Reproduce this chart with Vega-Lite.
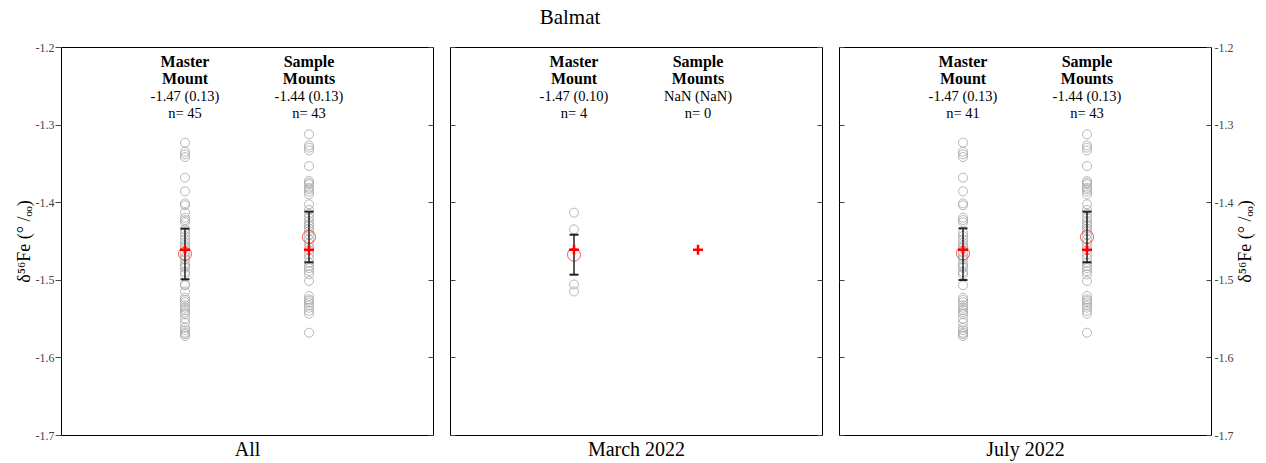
{
  "$schema": "https://vega.github.io/schema/vega-lite/v6.json",
  "background": "white",
  "padding": {"left": 14, "top": 6, "right": 5, "bottom": 2},
  "title": {"text": "Balmat", "font": "Liberation Serif", "fontSize": 21, "fontWeight": "normal", "color": "black", "offset": 13, "anchor": "middle", "frame": "bounds", "dx": -65},
  "datasets": {
    "pts": [
      {"c":"J","g":"Master","v":-1.3233},{"c":"J","g":"Master","v":-1.3349},{"c":"J","g":"Master","v":-1.3383},{"c":"J","g":"Master","v":-1.3418},{"c":"J","g":"Master","v":-1.3684},
      {"c":"J","g":"Master","v":-1.3860},{"c":"J","g":"Master","v":-1.4015},{"c":"J","g":"Master","v":-1.4040},{"c":"J","g":"Master","v":-1.4200},{"c":"J","g":"Master","v":-1.4230},
      {"c":"J","g":"Master","v":-1.4260},{"c":"J","g":"Master","v":-1.4393},{"c":"J","g":"Master","v":-1.4436},{"c":"J","g":"Master","v":-1.4480},{"c":"J","g":"Master","v":-1.4522},
      {"c":"J","g":"Master","v":-1.4560},{"c":"J","g":"Master","v":-1.4586},{"c":"J","g":"Master","v":-1.4650},{"c":"J","g":"Master","v":-1.4700},{"c":"J","g":"Master","v":-1.4736},
      {"c":"J","g":"Master","v":-1.4790},{"c":"J","g":"Master","v":-1.4822},{"c":"J","g":"Master","v":-1.4844},{"c":"J","g":"Master","v":-1.4900},{"c":"J","g":"Master","v":-1.4930},
      {"c":"J","g":"Master","v":-1.5071},{"c":"J","g":"Master","v":-1.5231},{"c":"J","g":"Master","v":-1.5260},{"c":"J","g":"Master","v":-1.5290},{"c":"J","g":"Master","v":-1.5329},
      {"c":"J","g":"Master","v":-1.5360},{"c":"J","g":"Master","v":-1.5389},{"c":"J","g":"Master","v":-1.5420},{"c":"J","g":"Master","v":-1.5445},{"c":"J","g":"Master","v":-1.5501},
      {"c":"J","g":"Master","v":-1.5553},{"c":"J","g":"Master","v":-1.5617},{"c":"J","g":"Master","v":-1.5650},{"c":"J","g":"Master","v":-1.5682},{"c":"J","g":"Master","v":-1.5700},
      {"c":"J","g":"Master","v":-1.5724},
      {"c":"M","g":"Master","v":-1.4135},{"c":"M","g":"Master","v":-1.4350},{"c":"M","g":"Master","v":-1.5060},{"c":"M","g":"Master","v":-1.5150},
      {"c":"J","g":"Sample","v":-1.3125},{"c":"J","g":"Sample","v":-1.3267},{"c":"J","g":"Sample","v":-1.3297},{"c":"J","g":"Sample","v":-1.3332},{"c":"J","g":"Sample","v":-1.3534},
      {"c":"J","g":"Sample","v":-1.3727},{"c":"J","g":"Sample","v":-1.3750},{"c":"J","g":"Sample","v":-1.3770},{"c":"J","g":"Sample","v":-1.3813},{"c":"J","g":"Sample","v":-1.3834},
      {"c":"J","g":"Sample","v":-1.3864},{"c":"J","g":"Sample","v":-1.3900},{"c":"J","g":"Sample","v":-1.4027},{"c":"J","g":"Sample","v":-1.4100},{"c":"J","g":"Sample","v":-1.4150},
      {"c":"J","g":"Sample","v":-1.4200},{"c":"J","g":"Sample","v":-1.4242},{"c":"J","g":"Sample","v":-1.4280},{"c":"J","g":"Sample","v":-1.4307},{"c":"J","g":"Sample","v":-1.4340},
      {"c":"J","g":"Sample","v":-1.4371},{"c":"J","g":"Sample","v":-1.4420},{"c":"J","g":"Sample","v":-1.4480},{"c":"J","g":"Sample","v":-1.4530},{"c":"J","g":"Sample","v":-1.4580},
      {"c":"J","g":"Sample","v":-1.4620},{"c":"J","g":"Sample","v":-1.4672},{"c":"J","g":"Sample","v":-1.4720},{"c":"J","g":"Sample","v":-1.4780},{"c":"J","g":"Sample","v":-1.4822},
      {"c":"J","g":"Sample","v":-1.4850},{"c":"J","g":"Sample","v":-1.4887},{"c":"J","g":"Sample","v":-1.4930},{"c":"J","g":"Sample","v":-1.5015},{"c":"J","g":"Sample","v":-1.5209},
      {"c":"J","g":"Sample","v":-1.5252},{"c":"J","g":"Sample","v":-1.5270},{"c":"J","g":"Sample","v":-1.5295},{"c":"J","g":"Sample","v":-1.5330},{"c":"J","g":"Sample","v":-1.5359},
      {"c":"J","g":"Sample","v":-1.5400},{"c":"J","g":"Sample","v":-1.5436},{"c":"J","g":"Sample","v":-1.5682}
    ],
    "summ": [
      {"p":"All","g":"Master","mean":-1.4663,"lo":-1.4994,"hi":-1.4341,"ref":-1.4612,"h":"Master\nMount","s":"-1.47 (0.13)","n":"n= 45"},
      {"p":"All","g":"Sample","mean":-1.4448,"lo":-1.4775,"hi":-1.4122,"ref":-1.4612,"h":"Sample\nMounts","s":"-1.44 (0.13)","n":"n= 43"},
      {"p":"March 2022","g":"Master","mean":-1.4676,"lo":-1.4934,"hi":-1.4419,"ref":-1.4612,"h":"Master\nMount","s":"-1.47 (0.10)","n":"n= 4"},
      {"p":"March 2022","g":"Sample","mean":null,"lo":null,"hi":null,"ref":-1.4612,"h":"Sample\nMounts","s":"NaN (NaN)","n":"n= 0"},
      {"p":"July 2022","g":"Master","mean":-1.4659,"lo":-1.5003,"hi":-1.4337,"ref":-1.4612,"h":"Master\nMount","s":"-1.47 (0.13)","n":"n= 41"},
      {"p":"July 2022","g":"Sample","mean":-1.4448,"lo":-1.4775,"hi":-1.4122,"ref":-1.4612,"h":"Sample\nMounts","s":"-1.44 (0.13)","n":"n= 43"}
    ]
  },
  "spacing": 15,
  "hconcat": [
    {
      "width": 372, "height": 388,
      "encoding": {"x": {"field": "g", "type": "nominal", "scale": {"type": "point", "domain": ["Master", "Sample"], "padding": 1}, "axis": {"title": "All", "labels": false, "ticks": false, "domain": false, "titleFontSize": 20, "titlePadding": 4, "titleFontWeight": "normal", "titleColor": "black", "titleFont": "Liberation Serif"}}},
      "resolve": {"axis": {"y": "independent"}},
      "layer": [
        {"data": {"name": "pts"}, "mark": {"type": "point", "shape": "circle", "filled": false, "stroke": "#a6a6a6", "strokeWidth": 0.8, "size": 81, "opacity": 1},
         "encoding": {"y": {"field": "v", "type": "quantitative", "scale": {"domain": [-1.7, -1.2], "nice": false, "zero": false},
           "axis": {"orient": "left", "values": [-1.7, -1.6, -1.5, -1.4, -1.3, -1.2], "labelExpr": "replace(format(datum.value,'.1f'),'−','-')", "tickSize": 6, "tickColor": "#444", "labelFontSize": 12, "labelColor": "#444", "labelPadding": 1, "labelFont": "Liberation Serif", "title": "δ⁵⁶Fe (° /ₒₒ)", "titleFont": "Liberation Serif", "titleFontSize": 18, "titleFontWeight": "normal", "titleColor": "black", "titlePadding": 2, "domain": false, "grid": false}}}},
        {"data": {"name": "summ"}, "transform": [{"filter": "datum.p == 'All'"}], "mark": {"type": "point", "shape": "circle", "filled": false, "stroke": "#ff4040", "strokeWidth": 0.9, "size": 170, "opacity": 1},
         "encoding": {"y": {"field": "mean", "type": "quantitative", "axis": {"orient": "right", "values": [-1.7, -1.6, -1.5, -1.4, -1.3, -1.2], "labels": false, "tickSize": -5, "tickColor": "#444", "title": null, "domain": false, "grid": false}}}},
        {"data": {"name": "summ"}, "transform": [{"filter": "datum.p == 'All'"}], "mark": {"type": "rule", "color": "#222", "strokeWidth": 1.5},
         "encoding": {"y": {"field": "lo", "type": "quantitative", "axis": null}, "y2": {"field": "hi"}}},
        {"data": {"name": "summ"}, "transform": [{"filter": "datum.p == 'All'"}, {"fold": ["lo", "hi"], "as": ["k", "val"]}], "mark": {"type": "tick", "orient": "horizontal", "color": "#222", "size": 9, "thickness": 2, "opacity": 1},
         "encoding": {"y": {"field": "val", "type": "quantitative", "axis": null}}},
        {"data": {"name": "summ"}, "transform": [{"filter": "datum.p == 'All'"}], "mark": {"type": "point", "shape": "M-1,0H1M0,-1V1", "filled": false, "stroke": "red", "strokeWidth": 2.5, "size": 100, "opacity": 1},
         "encoding": {"y": {"field": "ref", "type": "quantitative", "axis": null}}},
        {"data": {"name": "summ"}, "transform": [{"filter": "datum.p == 'All'"}], "mark": {"type": "text", "font": "Liberation Serif", "fontSize": 16, "fontWeight": "bold", "baseline": "middle", "align": "center", "dy": 15, "lineBreak": "\n", "lineHeight": 17, "color": "black"},
         "encoding": {"y": {"datum": -1.2, "type": "quantitative", "axis": null}, "text": {"field": "h"}}},
        {"data": {"name": "summ"}, "transform": [{"filter": "datum.p == 'All'"}], "mark": {"type": "text", "font": "Liberation Serif", "fontSize": 14.5, "baseline": "middle", "align": "center", "dy": 50, "color": "black"},
         "encoding": {"y": {"datum": -1.2, "type": "quantitative", "axis": null}, "text": {"field": "s"}}},
        {"data": {"name": "summ"}, "transform": [{"filter": "datum.p == 'All'"}], "mark": {"type": "text", "font": "Liberation Serif", "fontSize": 14.5, "baseline": "middle", "align": "center", "dy": 67, "color": "black"},
         "encoding": {"y": {"datum": -1.2, "type": "quantitative", "axis": null}, "text": {"field": "n"}}}
      ]
    },
    {
      "width": 372, "height": 388,
      "encoding": {"x": {"field": "g", "type": "nominal", "scale": {"type": "point", "domain": ["Master", "Sample"], "padding": 1}, "axis": {"title": "March 2022", "labels": false, "ticks": false, "domain": false, "titleFontSize": 20, "titlePadding": 4, "titleFontWeight": "normal", "titleColor": "black", "titleFont": "Liberation Serif"}}},
      "resolve": {"axis": {"y": "independent"}},
      "layer": [
        {"data": {"name": "pts"}, "transform": [{"filter": "datum.c == 'M'"}], "mark": {"type": "point", "shape": "circle", "filled": false, "stroke": "#a6a6a6", "strokeWidth": 0.8, "size": 81, "opacity": 1},
         "encoding": {"y": {"field": "v", "type": "quantitative", "scale": {"domain": [-1.7, -1.2], "nice": false, "zero": false},
           "axis": {"orient": "left", "values": [-1.7, -1.6, -1.5, -1.4, -1.3, -1.2], "labels": false, "tickSize": -5, "tickColor": "#444", "title": null, "domain": false, "grid": false}}}},
        {"data": {"name": "summ"}, "transform": [{"filter": "datum.p == 'March 2022'"}], "mark": {"type": "point", "shape": "circle", "filled": false, "stroke": "#ff4040", "strokeWidth": 0.9, "size": 170, "opacity": 1},
         "encoding": {"y": {"field": "mean", "type": "quantitative", "axis": {"orient": "right", "values": [-1.7, -1.6, -1.5, -1.4, -1.3, -1.2], "labels": false, "tickSize": -5, "tickColor": "#444", "title": null, "domain": false, "grid": false}}}},
        {"data": {"name": "summ"}, "transform": [{"filter": "datum.p == 'March 2022'"}], "mark": {"type": "rule", "color": "#222", "strokeWidth": 1.5},
         "encoding": {"y": {"field": "lo", "type": "quantitative", "axis": null}, "y2": {"field": "hi"}}},
        {"data": {"name": "summ"}, "transform": [{"filter": "datum.p == 'March 2022'"}, {"fold": ["lo", "hi"], "as": ["k", "val"]}], "mark": {"type": "tick", "orient": "horizontal", "color": "#222", "size": 9, "thickness": 2, "opacity": 1},
         "encoding": {"y": {"field": "val", "type": "quantitative", "axis": null}}},
        {"data": {"name": "summ"}, "transform": [{"filter": "datum.p == 'March 2022'"}], "mark": {"type": "point", "shape": "M-1,0H1M0,-1V1", "filled": false, "stroke": "red", "strokeWidth": 2.5, "size": 100, "opacity": 1},
         "encoding": {"y": {"field": "ref", "type": "quantitative", "axis": null}}},
        {"data": {"name": "summ"}, "transform": [{"filter": "datum.p == 'March 2022'"}], "mark": {"type": "text", "font": "Liberation Serif", "fontSize": 16, "fontWeight": "bold", "baseline": "middle", "align": "center", "dy": 15, "lineBreak": "\n", "lineHeight": 17, "color": "black"},
         "encoding": {"y": {"datum": -1.2, "type": "quantitative", "axis": null}, "text": {"field": "h"}}},
        {"data": {"name": "summ"}, "transform": [{"filter": "datum.p == 'March 2022'"}], "mark": {"type": "text", "font": "Liberation Serif", "fontSize": 14.5, "baseline": "middle", "align": "center", "dy": 50, "color": "black"},
         "encoding": {"y": {"datum": -1.2, "type": "quantitative", "axis": null}, "text": {"field": "s"}}},
        {"data": {"name": "summ"}, "transform": [{"filter": "datum.p == 'March 2022'"}], "mark": {"type": "text", "font": "Liberation Serif", "fontSize": 14.5, "baseline": "middle", "align": "center", "dy": 67, "color": "black"},
         "encoding": {"y": {"datum": -1.2, "type": "quantitative", "axis": null}, "text": {"field": "n"}}}
      ]
    },
    {
      "width": 372, "height": 388,
      "encoding": {"x": {"field": "g", "type": "nominal", "scale": {"type": "point", "domain": ["Master", "Sample"], "padding": 1}, "axis": {"title": "July 2022", "labels": false, "ticks": false, "domain": false, "titleFontSize": 20, "titlePadding": 4, "titleFontWeight": "normal", "titleColor": "black", "titleFont": "Liberation Serif"}}},
      "resolve": {"axis": {"y": "independent"}},
      "layer": [
        {"data": {"name": "pts"}, "transform": [{"filter": "datum.c == 'J'"}], "mark": {"type": "point", "shape": "circle", "filled": false, "stroke": "#a6a6a6", "strokeWidth": 0.8, "size": 81, "opacity": 1},
         "encoding": {"y": {"field": "v", "type": "quantitative", "scale": {"domain": [-1.7, -1.2], "nice": false, "zero": false},
           "axis": {"orient": "left", "values": [-1.7, -1.6, -1.5, -1.4, -1.3, -1.2], "labels": false, "tickSize": -5, "tickColor": "#444", "title": null, "domain": false, "grid": false}}}},
        {"data": {"name": "summ"}, "transform": [{"filter": "datum.p == 'July 2022'"}], "mark": {"type": "point", "shape": "circle", "filled": false, "stroke": "#ff4040", "strokeWidth": 0.9, "size": 170, "opacity": 1},
         "encoding": {"y": {"field": "mean", "type": "quantitative", "axis": {"orient": "right", "values": [-1.7, -1.6, -1.5, -1.4, -1.3, -1.2], "labelExpr": "replace(format(datum.value,'.1f'),'−','-')", "tickSize": -5, "tickColor": "#444", "labelFontSize": 12, "labelColor": "#444", "labelPadding": 8, "labelFont": "Liberation Serif", "title": "δ⁵⁶Fe (° /ₒₒ)", "titleAngle": 270, "titleFont": "Liberation Serif", "titleFontSize": 18, "titleFontWeight": "normal", "titleColor": "black", "titlePadding": 22, "domain": false, "grid": false}}}},
        {"data": {"name": "summ"}, "transform": [{"filter": "datum.p == 'July 2022'"}], "mark": {"type": "rule", "color": "#222", "strokeWidth": 1.5},
         "encoding": {"y": {"field": "lo", "type": "quantitative", "axis": null}, "y2": {"field": "hi"}}},
        {"data": {"name": "summ"}, "transform": [{"filter": "datum.p == 'July 2022'"}, {"fold": ["lo", "hi"], "as": ["k", "val"]}], "mark": {"type": "tick", "orient": "horizontal", "color": "#222", "size": 9, "thickness": 2, "opacity": 1},
         "encoding": {"y": {"field": "val", "type": "quantitative", "axis": null}}},
        {"data": {"name": "summ"}, "transform": [{"filter": "datum.p == 'July 2022'"}], "mark": {"type": "point", "shape": "M-1,0H1M0,-1V1", "filled": false, "stroke": "red", "strokeWidth": 2.5, "size": 100, "opacity": 1},
         "encoding": {"y": {"field": "ref", "type": "quantitative", "axis": null}}},
        {"data": {"name": "summ"}, "transform": [{"filter": "datum.p == 'July 2022'"}], "mark": {"type": "text", "font": "Liberation Serif", "fontSize": 16, "fontWeight": "bold", "baseline": "middle", "align": "center", "dy": 15, "lineBreak": "\n", "lineHeight": 17, "color": "black"},
         "encoding": {"y": {"datum": -1.2, "type": "quantitative", "axis": null}, "text": {"field": "h"}}},
        {"data": {"name": "summ"}, "transform": [{"filter": "datum.p == 'July 2022'"}], "mark": {"type": "text", "font": "Liberation Serif", "fontSize": 14.5, "baseline": "middle", "align": "center", "dy": 50, "color": "black"},
         "encoding": {"y": {"datum": -1.2, "type": "quantitative", "axis": null}, "text": {"field": "s"}}},
        {"data": {"name": "summ"}, "transform": [{"filter": "datum.p == 'July 2022'"}], "mark": {"type": "text", "font": "Liberation Serif", "fontSize": 14.5, "baseline": "middle", "align": "center", "dy": 67, "color": "black"},
         "encoding": {"y": {"datum": -1.2, "type": "quantitative", "axis": null}, "text": {"field": "n"}}}
      ]
    }
  ],
  "config": {
    "view": {"stroke": "black", "strokeWidth": 1},
    "axis": {"grid": false, "domain": false},
    "font": "Liberation Serif"
  }
}
